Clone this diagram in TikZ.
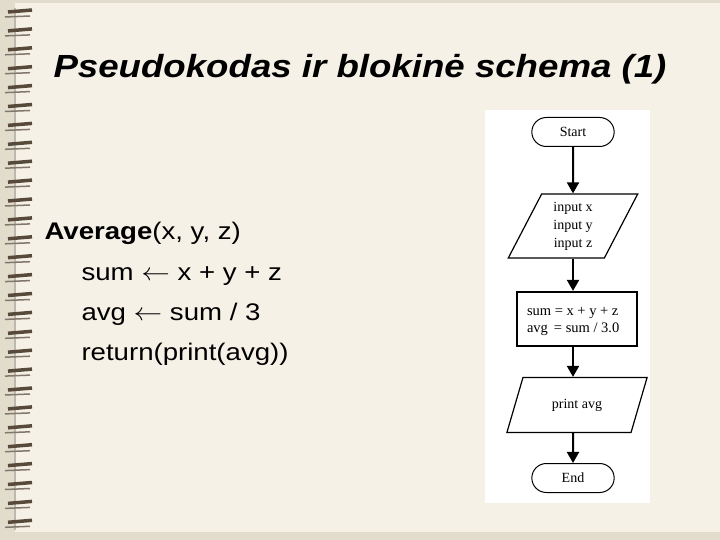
\documentclass[tikz,border=0pt]{standalone}
\usepackage{graphicx}
\usepackage{fontspec}
\setmainfont{Liberation Sans}
\newfontfamily\flowfont{Liberation Serif}
\usetikzlibrary{arrows.meta,shapes.geometric,shapes.misc}
\definecolor{paper}{RGB}{245,241,231}
\definecolor{edge}{RGB}{226,220,205}
\definecolor{wire}{RGB}{88,74,58}
\newcommand{\wide}[1]{\scalebox{1.15}[1]{#1}}
\begin{document}
\begin{tikzpicture}[x=1pt,y=-1pt,
  term/.style={draw, line width=1pt, rounded rectangle, minimum width=89pt, minimum height=29pt, font=\flowfont\fontsize{14}{18}\selectfont},
  io/.style={draw, line width=1.2pt, trapezium, trapezium left angle=66, trapezium right angle=114, trapezium stretches=true, font=\flowfont\fontsize{14}{18}\selectfont, align=center},
  proc/.style={draw, line width=2.2pt, rectangle, minimum width=120pt, minimum height=54pt, text width=100pt, text depth=16pt, font=\flowfont\fontsize{14.5}{17}\selectfont, align=flush left},
  flow/.style={line width=2pt, -{Triangle[width=12pt,length=11pt]}},
  code/.style={anchor=base west, font=\fontsize{24}{28}\selectfont}]
  \useasboundingbox (0,0) rectangle (720,540);
  % paper and binding
  \fill[edge] (0,0) rectangle (720,540);
  \fill[paper] (15,3) rectangle (720,532);
  \draw[wire!40, line width=2pt] (15,8) -- (15,530);
  \foreach \i in {0,...,27} {
    \draw[wire, line width=3.5pt] (8,12+18.9*\i) -- (32,10+18.9*\i);
    \draw[wire!75, line width=1.5pt] (5,17+18.9*\i) -- (30,16+18.9*\i);
  }
  % title and pseudocode
  \node[anchor=base west, font=\bfseries\itshape\fontsize{32}{36}\selectfont] (title) at (50,78) {\scalebox{1.145}[1]{Pseudokodas ir blokinė schema (1)}};
  \node[code] (head) at (41,240) {\wide{\textbf{Average}(x, y, z)}};
  \node[code] (sum) at (78,280) {\wide{sum $\leftarrow$ x + y + z}};
  \node[code] (avg) at (78,320) {\wide{avg $\leftarrow$ sum / 3}};
  \node[code] (ret) at (78,360) {\wide{return(print(avg))}};
  % flowchart
  \fill[white] (485,110) rectangle (650,503);
  \node[term] (start) at (573,132) {Start};
  \node[io, minimum width=130pt, minimum height=64pt] (input) at (573,226) {input x\\input y\\input z};
  \node[proc] (calc) at (577,319) {sum = x + y + z\\avg\, = sum / 3.0};
  \node[io, minimum width=141pt, minimum height=55pt] (print) at (577,405) {print avg};
  \node[term] (end) at (573,478) {End};
  \draw[flow] (start) -- (input);
  \draw[flow] (input.south) -- (input.south |- calc.north);
  \draw[flow] (input.south |- calc.south) -- (input.south |- print.north);
  \draw[flow] (input.south |- print.south) -- (end);
\end{tikzpicture}
\end{document}
